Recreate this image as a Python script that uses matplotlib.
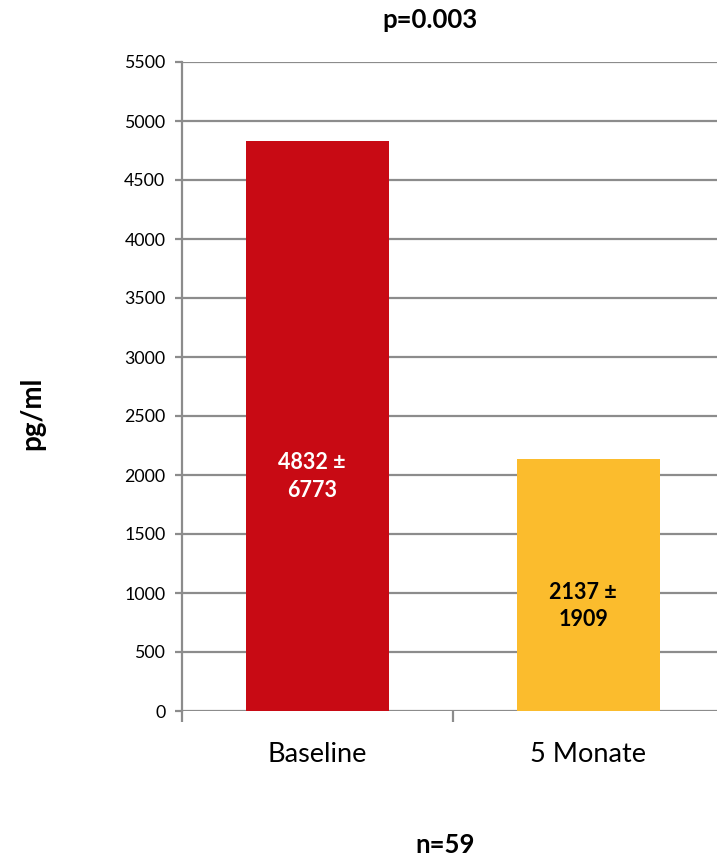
import matplotlib
matplotlib.use("Agg")
import matplotlib.pyplot as plt
from matplotlib.ticker import MultipleLocator

categories = ["Baseline", "5 Monate"]
means = [4832, 2137]
sds = [6773, 1909]
bar_colors = ["#C80A14", "#FBBC2D"]
label_colors = ["white", "black"]
label_y = [1990, 890]
p_text = "p=0.003"
n_text = "n=59"
y_label = "pg/ml"

plt.rcParams["font.family"] = ["Lato", "DejaVu Sans"]

W, H = 717, 858
fig = plt.figure(figsize=(W / 100, H / 100), dpi=100)
left, right = 182, 724
bottom, top = 711, 62
ax = fig.add_axes([left / W, 1 - bottom / H, (right - left) / W, (bottom - top) / H])

x = list(range(len(categories)))
ax.bar(x, means, width=0.524, color=bar_colors, zorder=3)

for xi, m, s, c, ly in zip(x, means, sds, label_colors, label_y):
    ax.text(xi - 0.02, ly, f"{m} ±\n{s}", ha="center", va="center", color=c,
            fontsize=15.5, fontweight="bold", linespacing=1.4, zorder=4)

ax.set_xlim(-0.5, 1.5)
ax.set_ylim(0, 5500)
ax.yaxis.set_major_locator(MultipleLocator(500))
ax.yaxis.grid(True, color="#8c8c8c", linewidth=1.6, zorder=0)
ax.set_axisbelow(True)

for side in ["top", "right", "bottom"]:
    ax.spines[side].set_visible(False)
ax.spines["left"].set_color("#8c8c8c")
ax.spines["left"].set_linewidth(1.6)
ax.tick_params(axis="y", length=5, width=1.6, color="#8c8c8c", labelsize=12.8, pad=7)

# category separators on the x axis
ax.set_xticks([-0.5, 0.5, 1.5])
ax.set_xticklabels([])
ax.tick_params(axis="x", length=8, width=1.6, color="#8c8c8c", direction="out")
ax.set_xticks(x, minor=True)
ax.set_xticklabels(categories, minor=True, fontsize=19.5)
ax.tick_params(axis="x", which="minor", length=0, pad=22)

fig.text(430 / W, 1 - 20 / H, p_text, ha="center", va="center", fontsize=18.5, fontweight="bold")
fig.text(445 / W, 1 - 845 / H, n_text, ha="center", va="center", fontsize=18.5, fontweight="bold")
fig.text(32 / W, 1 - 413 / H, y_label, ha="center", va="center", rotation=90,
         fontsize=20, fontweight="bold")

fig.savefig("out.png", dpi=100, facecolor="white")
